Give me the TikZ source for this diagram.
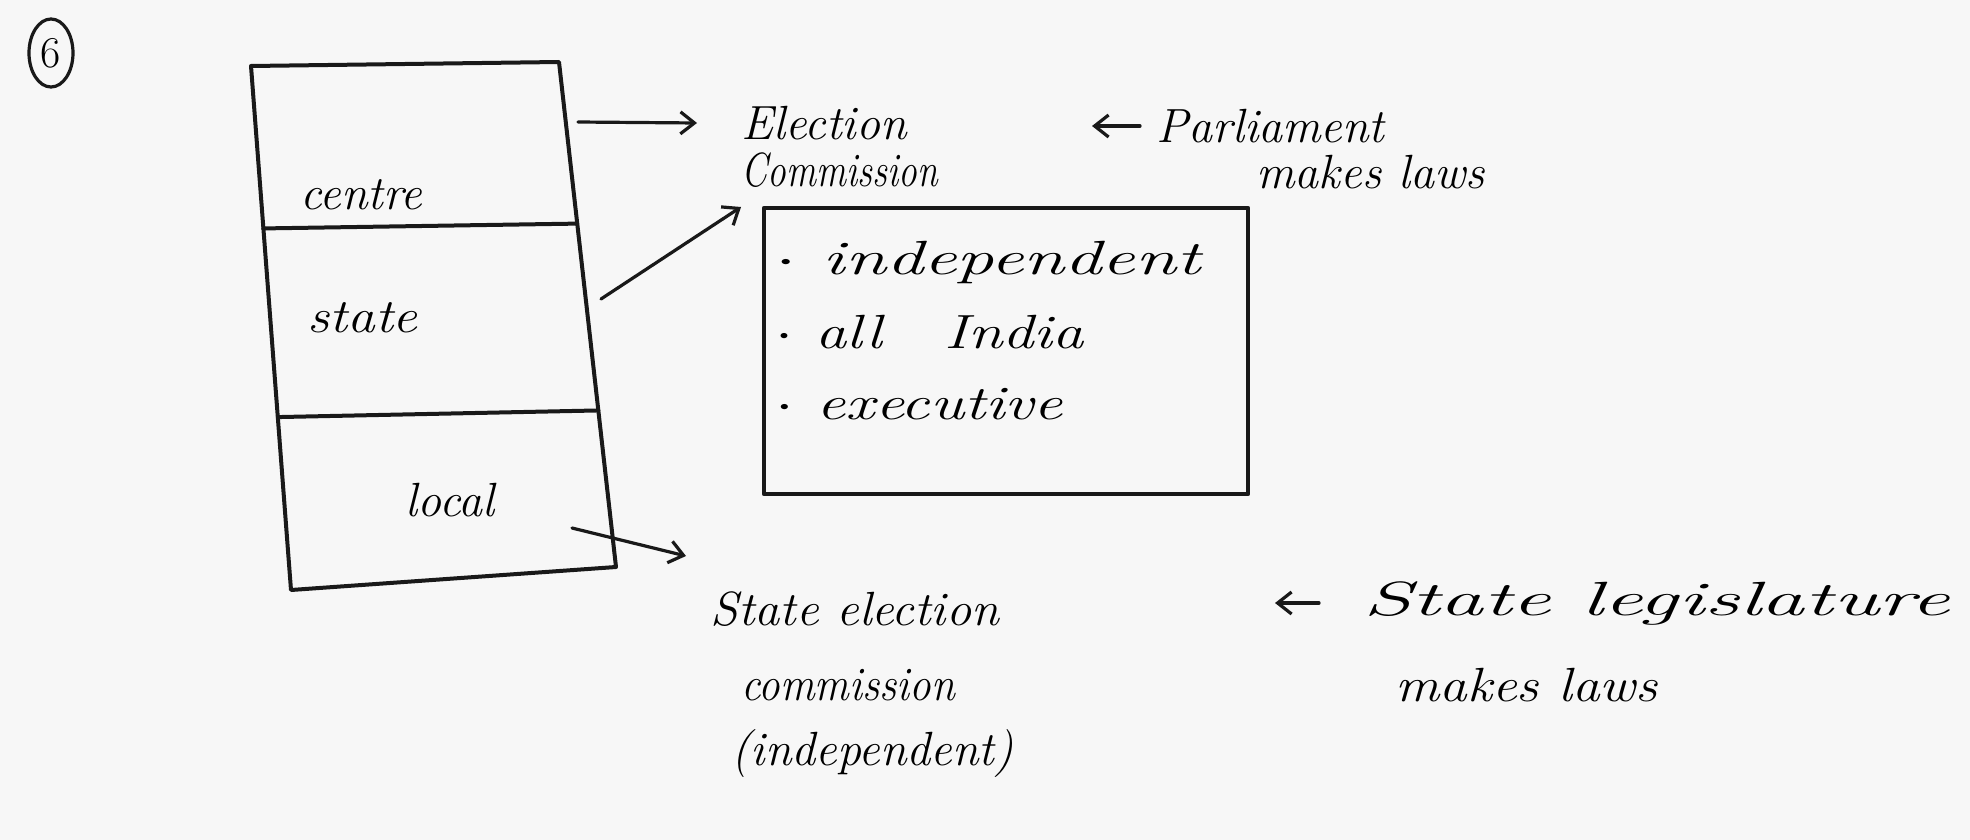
\documentclass[tikz,border=0pt]{standalone}
\usetikzlibrary{arrows.meta,calc,shapes.geometric}
\newcommand{\hwx}[2]{\scalebox{#1}[1]{#2}}
\begin{document}
\begin{tikzpicture}[x=0.5pt,y=-0.5pt,
  line cap=round, line join=round,
  hw/.style={font=\fontsize{24}{28}\selectfont\itshape, inner sep=0pt, anchor=west},
  boxline/.style={line width=2pt, draw=black!90},
  arr/.style={-{Straight Barb[length=7pt,width=11pt]}, line width=1.6pt, draw=black!90},
  larr/.style={{Straight Barb[length=7pt,width=11pt]}-, line width=1.6pt, draw=black!90}]
\fill[black!3] (0,0) rectangle (1970,840);
\useasboundingbox (0,0) rectangle (1970,840);

% question number
\node[draw=black!90, line width=1.6pt, ellipse, minimum width=22pt, minimum height=34pt, inner sep=0pt,
  font=\fontsize{22}{24}\selectfont] (q6) at (51,53) {6};

% left skewed box
\coordinate (TL) at (251,66);
\coordinate (TR) at (559,62);
\coordinate (BR) at (616,567);
\coordinate (BL) at (291,590);
\draw[boxline] (TL) -- (TR) -- (BR) -- (BL) -- cycle;
\draw[boxline] ($(TL)!0.31!(BL)$) -- ($(TR)!0.32!(BR)$);
\draw[boxline] ($(TL)!0.67!(BL)$) -- ($(TR)!0.69!(BR)$);

\node[hw] (centre) at (300,195) {\hwx{1.0}{centre}};
\node[hw] (state) at (307,318) {\hwx{1.15}{state}};
\node[hw] (local) at (405,500) {\hwx{1.0}{local}};

% Election commission
\node[hw] (elec) at (741,123) {\hwx{1.0}{Election}};
\node[hw] (comm) at (741,170) {\hwx{0.78}{Commission}};
\node[hw] (parl) at (1156,126) {\hwx{1.0}{Parliament}};
\node[hw] (laws1) at (1256,172) {\hwx{1.0}{makes laws}};

% info box
\node[draw=black!90, line width=2.2pt, minimum width=242pt, minimum height=143pt, inner sep=0pt] (info) at (1006,351) {};
\node[hw] (i1) at (775,262) {\hwx{1.55}{$\cdot$ independent}};
\node[hw] (i2) at (775,332) {\hwx{1.3}{$\cdot$ all\quad India}};
\node[hw] (i3) at (775,404) {\hwx{1.35}{$\cdot$ executive}};

% state election commission
\node[hw] (sec1) at (710,609) {\hwx{1.05}{State election}};
\node[hw] (sec2) at (741,685) {\hwx{0.9}{commission}};
\node[hw] (sec3) at (731,754) {\hwx{1.0}{(independent)}};
\node[hw] (sleg) at (1363,603) {\hwx{1.82}{State legislature}};
\node[hw] (laws2) at (1395,685) {\hwx{1.15}{makes laws}};

% connectors
\coordinate (a1s) at (578,122);
\draw[arr] (a1s) -- ([xshift=-22pt]elec.west);
\coordinate (a2s) at (601,299);
\coordinate (a2e) at (741,207);
\draw[arr] (a2s) -- (a2e);
\coordinate (a3s) at (572,528);
\coordinate (a3e) at (686,556);
\draw[arr] (a3s) -- (a3e);
\draw[larr] ([xshift=-32pt]parl.west) -- ([xshift=-8pt]parl.west);
\draw[larr] ([xshift=-44pt]sleg.west) -- ([xshift=-22pt]sleg.west);
\end{tikzpicture}
\end{document}
